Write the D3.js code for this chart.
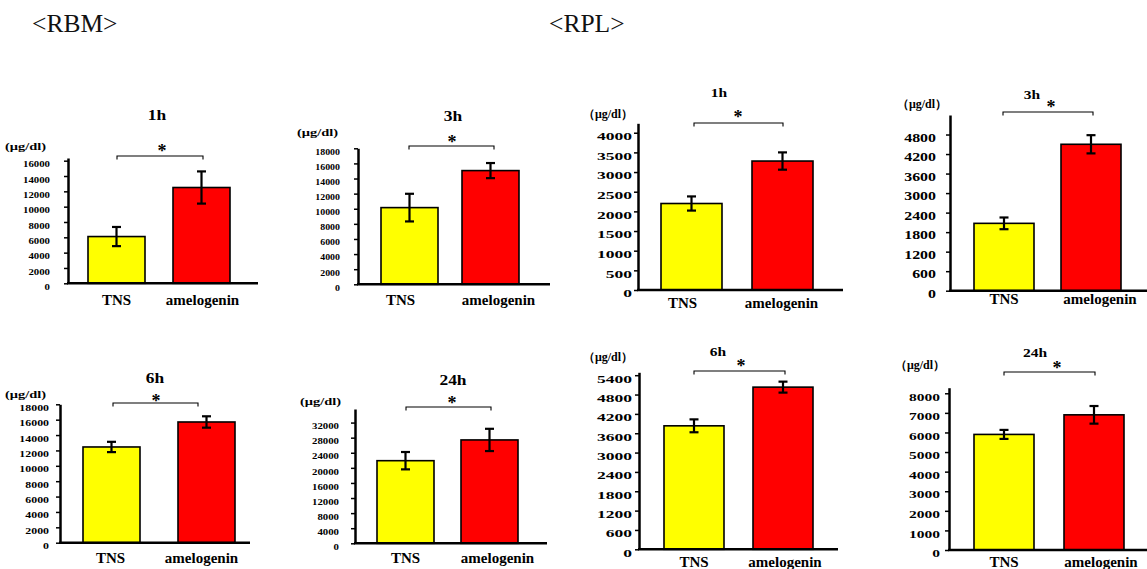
<!DOCTYPE html>
<html><head><meta charset="utf-8">
<script src="https://cdn.jsdelivr.net/npm/d3@7"></script>
<style>body{margin:0;background:#fff} svg{display:block}</style>
</head><body>
<svg id="c" width="1147" height="569"></svg>
<script>
// ---------- data ----------
const categories = ["TNS", "amelogenin"];
const groupLabels = ["<RBM>", "<RPL>"];
const panelTitles = ["1h", "3h", "1h", "3h", "6h", "24h", "6h", "24h"];
const panelGroup = ["RBM", "RBM", "RPL", "RPL", "RBM", "RBM", "RPL", "RPL"];
const unitLabels = ["(μg/dl)", "(μg/dl)", "（μg/dl）", "（μg/dl）", "(μg/dl)", "(μg/dl)", "（μg/dl）", "（μg/dl）"];
const tnsMeans   = [6100, 10150, 2200, 2070, 12450, 21900, 3830, 5900];
const tnsErrors  = [1250, 1830, 180, 180, 670, 2300, 200, 230];
const ameloMeans = [12500, 15050, 3280, 4500, 15700, 27400, 5030, 6900];
const ameloErrors= [2100, 1000, 220, 280, 740, 2950, 170, 450];
const significance = ["*", "*", "*", "*", "*", "*", "*", "*"];
const tickValues = [
  [0, 2000, 4000, 6000, 8000, 10000, 12000, 14000, 16000],
  [0, 2000, 4000, 6000, 8000, 10000, 12000, 14000, 16000, 18000],
  [0, 500, 1000, 1500, 2000, 2500, 3000, 3500, 4000],
  [0, 600, 1200, 1800, 2400, 3000, 3600, 4200, 4800],
  [0, 2000, 4000, 6000, 8000, 10000, 12000, 14000, 16000, 18000],
  [0, 4000, 8000, 12000, 16000, 20000, 24000, 28000, 32000],
  [0, 600, 1200, 1800, 2400, 3000, 3600, 4200, 4800, 5400],
  [0, 1000, 2000, 3000, 4000, 5000, 6000, 7000, 8000]
];
const axisMax = [16350, 18000, 4240, 5400, 18000, 35600, 5490, 8285];
const barColors = ["#ffff00", "#ff0000"];

// ---------- layout (pixels) ----------
const layout = [
  {ax:68,  top:158,   base:283.3, xEnd:258,  barL:88,  barR:230,  bw:57, brY:156, brX:[117,203],  star:[162,147], title:[157,115], unit:[5,147],   catY:300, gap:18, labDx:[0,1],  tf:9,    tsx:1.2},
  {ax:358, top:148.3, base:284.3, xEnd:550,  barL:381, barR:519,  bw:57, brY:146, brX:[409,494],  star:[452,138], title:[453,116], unit:[297,133], catY:300, gap:18, labDx:[-9,8], tf:9,    tsx:1.1},
  {ax:638, top:123.3, base:290,   xEnd:843,  barL:661, barR:813,  bw:61, brY:123, brX:[694,783],  star:[738,113], title:[719,93],  unit:[583,114], catY:303, gap:6,  labDx:[-9,-1],tf:11.3, tsx:1.55},
  {ax:950, top:115,   base:290.7, xEnd:1147, barL:974, barR:1121, bw:60, brY:112, brX:[1003,1093],star:[1051,103],title:[1032,95], unit:[897,104], catY:299, gap:14, labDx:[0,9],  tf:11.8, tsx:1.35},
  {ax:60,  top:404.3, base:542.7, xEnd:250,  barL:83,  barR:235,  bw:57, brY:403, brX:[113,198],  star:[156,397], title:[155,378], unit:[5,395],   catY:558, gap:11, labDx:[-1,-5],tf:8.8,  tsx:1.35},
  {ax:355, top:409,   base:543.3, xEnd:547,  barL:377, barR:518,  bw:57, brY:407, brX:[406,491],  star:[452,399], title:[453,380], unit:[300,402], catY:558, gap:16, labDx:[0,8],  tf:9,    tsx:1.2},
  {ax:639, top:372.3, base:549.3, xEnd:838,  barL:664, barR:813,  bw:60, brY:371, brX:[694,785],  star:[741,362], title:[718,352], unit:[583,357], catY:562, gap:7,  labDx:[0,2],  tf:11.3, tsx:1.55},
  {ax:949, top:387.7, base:550,   xEnd:1147, barL:974, barR:1124, bw:60, brY:372, brX:[1004,1095],star:[1057,364],title:[1035,353],unit:[895,365], catY:562, gap:9,  labDx:[0,7],  tf:11.3, tsx:1.37}
];
const groupPos = [[32, 32], [549, 32]];

const FONT = "'Liberation Serif', 'Times New Roman', serif";
const svg = d3.select("#c");
svg.append("rect").attr("width", 1147).attr("height", 569).attr("fill", "#fff");

function stretchText(g, x, y, txt, size, sx, anchor, weight) {
  return g.append("text")
    .attr("transform", `translate(${x},${y}) scale(${sx},1)`)
    .attr("text-anchor", anchor)
    .attr("dominant-baseline", "central")
    .attr("font-family", FONT)
    .attr("font-weight", weight || "bold")
    .attr("font-size", size)
    .attr("fill", "#000")
    .text(txt);
}

// group headers
groupLabels.forEach((t, i) => {
  svg.append("text").attr("x", groupPos[i][0]).attr("y", groupPos[i][1])
    .attr("font-family", FONT).attr("font-size", 25.5).attr("fill", "#111")
    .text(t);
});

panelTitles.forEach((title, i) => {
  const L = layout[i];
  const isRPL = panelGroup[i] === "RPL";
  const g = svg.append("g");
  const y = d3.scaleLinear().domain([0, axisMax[i]]).range([L.base, L.top]);
  const total = L.barR - L.barL;
  const x = d3.scaleBand().domain(categories).range([L.barL, L.barR])
    .paddingInner((total - 2 * L.bw) / (total - L.bw)).paddingOuter(0);

  const means = [tnsMeans[i], ameloMeans[i]];
  const errs = [tnsErrors[i], ameloErrors[i]];
  const rows = categories.map((c, k) => ({c, m: means[k], e: errs[k], color: barColors[k], dx: L.labDx[k]}));

  // bars
  g.selectAll("rect.bar").data(rows).join("rect").attr("class", "bar")
    .attr("x", d => x(d.c)).attr("y", d => y(d.m))
    .attr("width", x.bandwidth()).attr("height", d => y(0) - y(d.m))
    .attr("fill", d => d.color).attr("stroke", "#000").attr("stroke-width", 1.6);

  // error bars
  const eb = g.selectAll("g.err").data(rows).join("g").attr("class", "err")
    .attr("stroke", "#000").attr("stroke-width", 2.2);
  eb.append("line").attr("x1", d => x(d.c) + x.bandwidth() / 2).attr("x2", d => x(d.c) + x.bandwidth() / 2)
    .attr("y1", d => y(d.m + d.e)).attr("y2", d => y(d.m - d.e));
  eb.append("line").attr("x1", d => x(d.c) + x.bandwidth() / 2 - 4.5).attr("x2", d => x(d.c) + x.bandwidth() / 2 + 4.5)
    .attr("y1", d => y(d.m + d.e)).attr("y2", d => y(d.m + d.e));
  eb.append("line").attr("x1", d => x(d.c) + x.bandwidth() / 2 - 4.5).attr("x2", d => x(d.c) + x.bandwidth() / 2 + 4.5)
    .attr("y1", d => y(d.m - d.e)).attr("y2", d => y(d.m - d.e));

  // y axis
  const ya = g.append("g").attr("transform", `translate(${L.ax},0)`)
    .call(d3.axisLeft(y).tickValues(tickValues[i]).tickSizeInner(4).tickSizeOuter(0).tickFormat(d3.format("d")));
  ya.select(".domain").attr("stroke", "#000").attr("stroke-width", 2.5);
  ya.selectAll(".tick line").attr("stroke", "#000").attr("stroke-width", 1.5);
  ya.selectAll(".tick text")
    .attr("x", null).attr("dy", null)
    .attr("transform", `translate(${-L.gap},3) scale(${L.tsx},1)`)
    .attr("dominant-baseline", "central")
    .attr("font-family", FONT).attr("font-weight", "bold").attr("font-size", L.tf).attr("fill", "#000");

  // x axis line
  g.append("line").attr("x1", L.ax - 1).attr("x2", L.xEnd).attr("y1", y(0)).attr("y2", y(0))
    .attr("stroke", "#000").attr("stroke-width", 2.5);

  // category labels
  g.selectAll("text.cat").data(rows).join("text").attr("class", "cat")
    .attr("x", d => x(d.c) + x.bandwidth() / 2 + d.dx).attr("y", L.catY)
    .attr("text-anchor", "middle").attr("dominant-baseline", "central")
    .attr("font-family", FONT).attr("font-weight", "bold").attr("font-size", 15).attr("fill", "#000")
    .text(d => d.c);

  // significance bracket
  g.append("path")
    .attr("d", `M${L.brX[0]},${L.brY + 3.5}V${L.brY}H${L.brX[1]}V${L.brY + 3.5}`)
    .attr("fill", "none").attr("stroke", "#000").attr("stroke-width", 1.1);
  stretchText(g, L.star[0], L.star[1] + 4, significance[i], 18, 1, "middle");

  // title
  stretchText(g, L.title[0], L.title[1], title, isRPL ? 11.5 : 14.5, isRPL ? 1.35 : 1.2, "middle");

  // unit label
  g.append("text").attr("x", L.unit[0]).attr("y", L.unit[1])
    .attr("dominant-baseline", "central")
    .attr("font-family", FONT).attr("font-weight", "bold")
    .attr("font-size", isRPL ? 12 : 9.5)
    .attr("textLength", isRPL ? 50 : 41).attr("lengthAdjust", "spacingAndGlyphs")
    .attr("fill", "#000").text(unitLabels[i]);
});
</script>
</body></html>
